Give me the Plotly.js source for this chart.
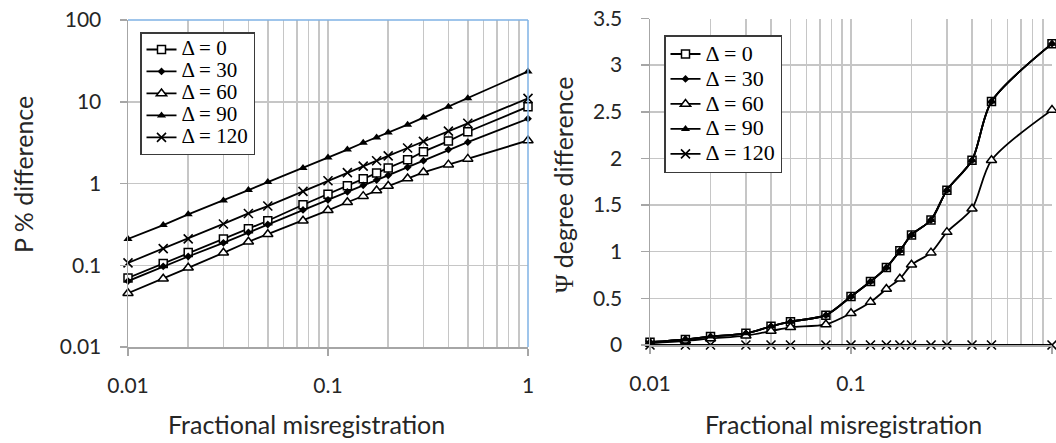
<!DOCTYPE html>
<html><head><meta charset="utf-8">
<script src="https://cdn.plot.ly/plotly-3.0.1.min.js"></script>
<style>html,body{margin:0;padding:0;background:#fff}#chart{width:1056px;height:443px}</style>
</head><body><div id="chart"></div>
<script>
// ---- data ----
const misregistration = [0.01,0.015,0.02,0.03,0.04,0.05,0.075,0.1,0.125,0.15,0.175,0.2,0.25,0.3,0.4,0.5,1];
const seriesNames = ['Δ = 0','Δ = 30','Δ = 60','Δ = 90','Δ = 120'];

// P % difference (left panel)
const pDiff0   = [0.07,0.105,0.143,0.21,0.28,0.35,0.55,0.74,0.94,1.14,1.34,1.55,1.95,2.45,3.3,4.3,8.7];
const pDiff30  = [0.064,0.097,0.128,0.188,0.252,0.315,0.475,0.63,0.79,0.95,1.1,1.26,1.58,1.9,2.6,3.2,6.2];
const pDiff60  = [0.0454,0.0684,0.093,0.142,0.194,0.24,0.351,0.47,0.59,0.7,0.82,0.93,1.15,1.37,1.7,2.0,3.36];
const pDiff90  = [0.21,0.31,0.42,0.62,0.83,1.04,1.55,2.08,2.6,3.15,3.65,4.2,5.25,6.4,8.7,11.0,23.5];
const pDiff120 = [0.107,0.16,0.21,0.32,0.43,0.53,0.8,1.08,1.36,1.63,1.9,2.18,2.72,3.28,4.38,5.45,11.0];

// Psi degree difference (right panel)
const psiDiff0   = [0.03,0.06,0.09,0.125,0.2,0.25,0.32,0.52,0.68,0.83,1.01,1.18,1.34,1.66,1.98,2.61,3.23];
const psiDiff30  = [0.03,0.06,0.09,0.125,0.2,0.25,0.32,0.52,0.68,0.83,1.01,1.18,1.34,1.66,1.98,2.61,3.23];
const psiDiff60  = [0.02,0.045,0.07,0.1,0.15,0.19,0.22,0.34,0.46,0.6,0.71,0.86,0.99,1.21,1.46,1.98,2.52];
const psiDiff90  = [0.03,0.06,0.09,0.125,0.2,0.25,0.32,0.52,0.68,0.83,1.01,1.18,1.34,1.66,1.98,2.61,3.23];
const psiDiff120 = [0,0,0,0,0,0,0,0,0,0,0,0,0,0,0,0,0];

// tick labels
const xTickVals = [0.01,0.1,1];
const xTickText = ['0.01','0.1','1'];
const pTickVals = [0.01,0.1,1,10,100];
const pTickText = ['0.01','0.1','1','10','100'];
const psiTickVals = [0,0.5,1,1.5,2,2.5,3,3.5];
const psiTickText = ['0','0.5','1','1.5','2','2.5','3','3.5'];

// ---- styles ----
const markerStyles = [
  {symbol:'square', size:8, color:'#fff', line:{color:'#000', width:1.5}},
  {symbol:'diamond', size:6, color:'#000', line:{color:'#000', width:0}},
  {symbol:'triangle-up', size:9, color:'#fff', line:{color:'#000', width:1.5}},
  {symbol:'triangle-up', size:8, color:'#000', line:{color:'#000', width:0}},
  {symbol:'x-thin', size:9, color:'#000', line:{color:'#000', width:1.6}}
];
const pSeries = [pDiff0,pDiff30,pDiff60,pDiff90,pDiff120];
const psiSeries = [psiDiff0,psiDiff30,psiDiff60,psiDiff90,psiDiff120];

function legendName(n, px){ return '<span style="font-size:'+px+'px">'+n+'</span>'; }

const traces = [];
pSeries.forEach((ys,i)=>{
  traces.push({type:'scatter', mode:'lines+markers', x:misregistration, y:ys,
    xaxis:'x', yaxis:'y', name:legendName(seriesNames[i],21), legend:'legend',
    line:{color:'#000', width:1.8}, marker:markerStyles[i], cliponaxis:false});
});
psiSeries.forEach((ys,i)=>{
  traces.push({type:'scatter', mode:'lines+markers', x:misregistration, y:ys,
    xaxis:'x2', yaxis:'y2', name:legendName(seriesNames[i],22), legend:'legend2',
    line:{color:'#000', width:1.8, shape:'spline', smoothing:0.8}, marker:markerStyles[i], cliponaxis:false});
});

const W=1056, H=443;
const gridC='#c6c6c6', axC='#a6a6a6', tickFont={family:'Lato', size:21, color:'#262626'};
const titleFont={family:'Lato', size:25, color:'#262626'};
function xAxis(dom, anchor){
  return {type:'log', domain:dom, anchor:anchor, range:[-2,0], tickmode:'array', tickvals:xTickVals, ticktext:xTickText,
    ticks:'outside', ticklen:7, tickwidth:1.5, tickcolor:axC, showline:true, linecolor:axC, linewidth:1.5,
    showgrid:true, gridcolor:gridC, gridwidth:1.5, zeroline:false, tickfont:tickFont, ticklabelstandoff:12,
    minor:{dtick:'D1', showgrid:true, gridcolor:gridC, gridwidth:1.5, ticks:''}, automargin:false, fixedrange:true};
}
const layout = {
  width:W, height:H, margin:{l:0,r:0,t:0,b:0}, paper_bgcolor:'#fff', plot_bgcolor:'#fff', showlegend:true,
  xaxis: xAxis([128/W, 528/W], 'y'),
  yaxis: {type:'log', domain:[(H-347)/H, (H-20)/H], anchor:'x', range:[-2,2], tickmode:'array', tickvals:pTickVals, ticktext:pTickText,
    ticks:'outside', ticklen:7, tickwidth:1.5, tickcolor:axC, showline:true, linecolor:axC, linewidth:1.5,
    showgrid:true, gridcolor:gridC, gridwidth:1.5, zeroline:false, tickfont:tickFont, ticklabelstandoff:14, automargin:false, fixedrange:true},
  xaxis2: xAxis([650/W, 1052/W], 'y2'),
  yaxis2: {domain:[(H-345)/H, (H-18.5)/H], anchor:'x2', range:[0,3.5], tickmode:'array', tickvals:psiTickVals, ticktext:psiTickText,
    ticks:'outside', ticklen:8, tickwidth:1.5, tickcolor:axC, showline:true, linecolor:axC, linewidth:1.5,
    showgrid:true, gridcolor:gridC, gridwidth:1.5, zeroline:false, tickfont:tickFont, ticklabelstandoff:14, automargin:false, fixedrange:true},
  legend: {x:140/W, y:(H-32)/H, xanchor:'left', yanchor:'top', bgcolor:'#fff', bordercolor:'#3a3a3a', borderwidth:1.5,
    font:{family:'Liberation Serif', size:14.6, color:'#000'}, tracegroupgap:0, itemwidth:30},
  legend2: {x:664/W, y:(H-35)/H, xanchor:'left', yanchor:'top', bgcolor:'#fff', bordercolor:'#3a3a3a', borderwidth:1.5,
    font:{family:'Liberation Serif', size:16.9, color:'#000'}, tracegroupgap:0, itemwidth:30},
  shapes: [
    {type:'line', xref:'x domain', yref:'y domain', x0:0, x1:1, y0:1, y1:1, line:{color:'#7fb2e5', width:1.5}},
    {type:'line', xref:'x domain', yref:'y domain', x0:1, x1:1, y0:0, y1:1, line:{color:'#7fb2e5', width:1.5}}
  ],
  annotations: [
    {text:'Fractional misregistration', xref:'paper', yref:'paper', x:306.7/W, y:2/H, xanchor:'center', yanchor:'bottom', showarrow:false, font:titleFont},
    {text:'Fractional misregistration', xref:'paper', yref:'paper', x:843/W, y:2/H, xanchor:'center', yanchor:'bottom', showarrow:false, font:titleFont},
    {text:'P % difference', xref:'paper', yref:'paper', x:22.5/W, y:(H-174.5)/H, xanchor:'center', yanchor:'middle', textangle:-90, showarrow:false, font:titleFont},
    {text:'<span style="font-family:Liberation Serif">Ψ</span> degree difference', xref:'paper', yref:'paper', x:563/W, y:(H-185)/H, xanchor:'center', yanchor:'middle', textangle:-90, showarrow:false, font:titleFont}
  ]
};
Plotly.newPlot('chart', traces, layout, {staticPlot:true, displayModeBar:false});
</script></body></html>
